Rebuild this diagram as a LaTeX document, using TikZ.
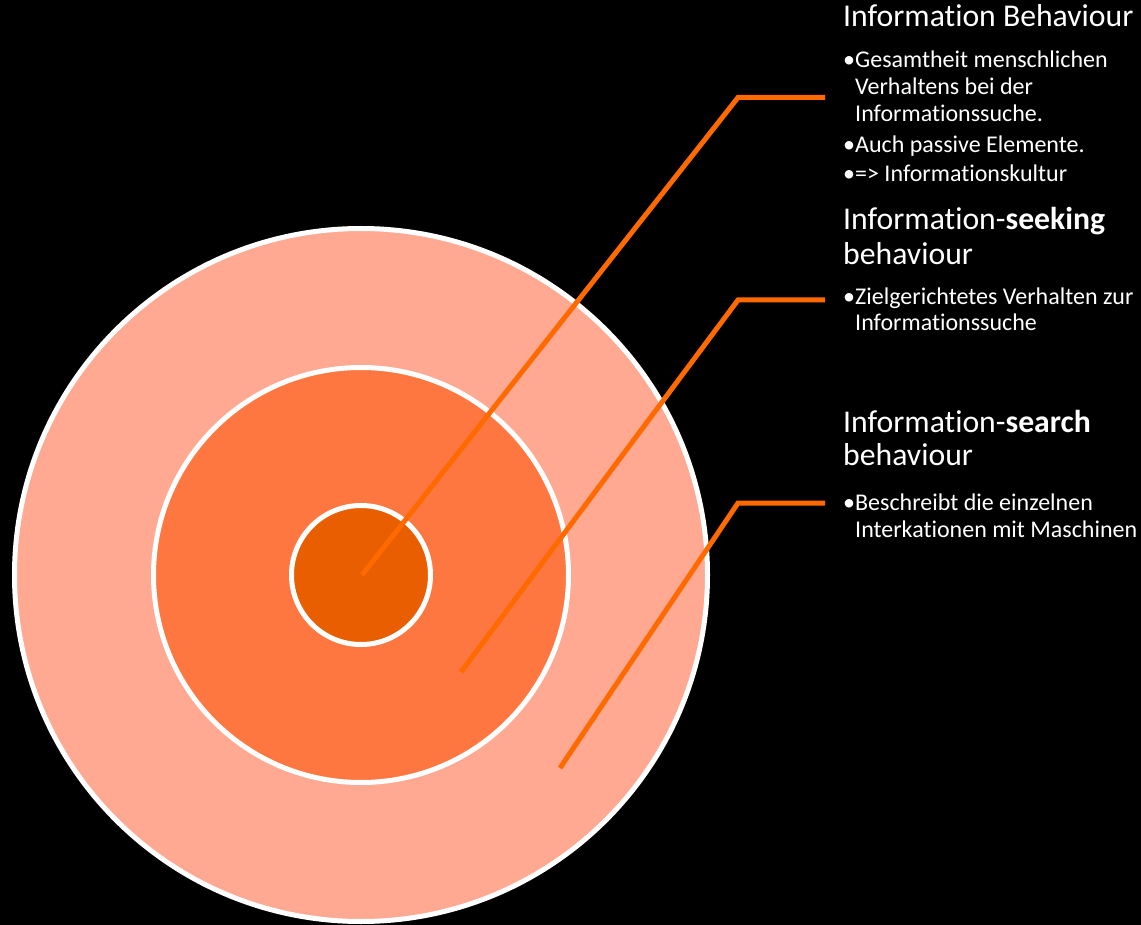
\documentclass[tikz,border=0pt]{standalone}
\usepackage{fontspec}
\setmainfont[Ligatures={NoCommon,NoContextual}]{Carlito}
\definecolor{ringout}{HTML}{FFA892}
\definecolor{ringmid}{HTML}{FF7740}
\definecolor{ringin}{HTML}{E85E00}
\definecolor{leader}{HTML}{FF6A00}
\tikzset{
	ring/.style={circle, draw=white, line width=5pt, inner sep=0pt},
	lead/.style={draw=leader, line width=5pt},
	head/.style={anchor=base west, text=white, inner sep=0pt, font=\fontsize{31.7}{36}\selectfont},
	item/.style={anchor=base west, text=white, inner sep=0pt, font=\fontsize{24}{27}\selectfont}
}
\begin{document}
\begin{tikzpicture}[x=1pt, y=-1pt]
		\fill[black] (0,0) rectangle (1141,925);
		\useasboundingbox (0,0) rectangle (1141,925);
		% target
		\node[ring, fill=ringout, minimum size=693pt] (c3) at (361,575) {};
		\node[ring, fill=ringmid, minimum size=415pt] (c2) at (361,575) {};
		\node[ring, fill=ringin, minimum size=139pt] (c1) at (361,575) {};
		% leader lines
		\coordinate (p1) at (362,575);
		\coordinate (k1) at (738,97.5);
		\coordinate (e1) at (825,97.5);
		\coordinate (p2) at (461,672);
		\coordinate (k2) at (738,300);
		\coordinate (e2) at (825,300);
		\coordinate (p3) at (560,768);
		\coordinate (k3) at (738,503);
		\coordinate (e3) at (825,503);
		\draw[lead] (p1) -- (k1) -- (e1);
		\draw[lead] (p2) -- (k2) -- (e2);
		\draw[lead] (p3) -- (k3) -- (e3);
		% texts
		\node[head] (h1) at (843,27) {Information Behaviour};
		\node[item] (i1a) at (843,68) {•Gesamtheit menschlichen};
		\node[item] (i1b) at (855,95) {Verhaltens bei der};
		\node[item] (i1c) at (855,122) {Informationssuche.};
		\node[item] (i1d) at (843,153) {•Auch passive Elemente.};
		\node[item] (i1e) at (843,182) {•=> Informationskultur};
		\node[head] (h2a) at (843,230) {Information-\textbf{seeking}};
		\node[head] (h2b) at (843,265) {behaviour};
		\node[item] (i2a) at (843,305) {•Zielgerichtetes Verhalten zur};
		\node[item] (i2b) at (855,331) {Informationssuche};
		\node[head] (h3a) at (843,432) {Information-\textbf{search}};
		\node[head] (h3b) at (843,465) {behaviour};
		\node[item] (i3a) at (843,510) {•Beschreibt die einzelnen};
		\node[item] (i3b) at (855,537) {Interkationen mit Maschinen};
\end{tikzpicture}
\end{document}
